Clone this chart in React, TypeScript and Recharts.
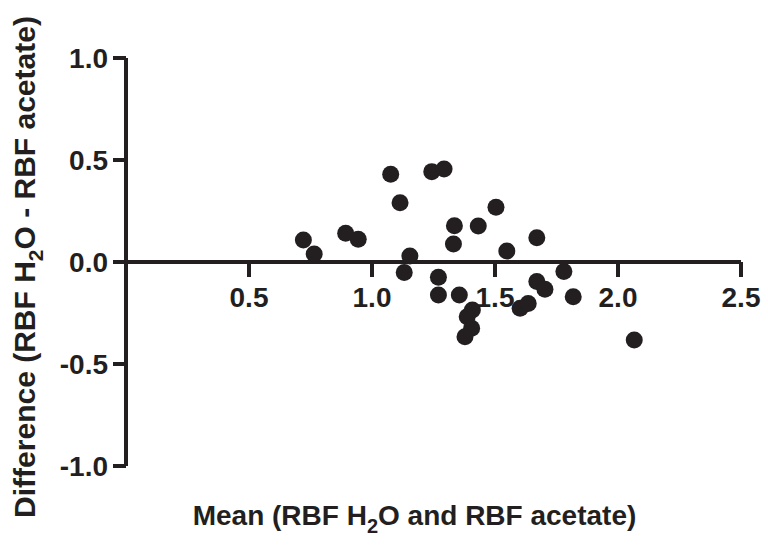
import React from "react";
import { ScatterChart, Scatter, XAxis, YAxis, ReferenceLine } from "recharts";

// Bland-Altman style: mean vs difference of RBF measurements
const MEAN_RBF = [
    0.721, 0.765, 0.893, 0.944, 1.076, 1.114, 1.154, 1.131, 1.243, 1.293,
    1.270, 1.270, 1.335, 1.331, 1.355, 1.408, 1.387, 1.405, 1.378, 1.432,
    1.504, 1.548, 1.602, 1.635, 1.670, 1.670, 1.703, 1.780, 1.818, 2.066,
];
const DIFF_RBF = [
    0.108, 0.039, 0.141, 0.111, 0.430, 0.291, 0.029, -0.051, 0.443, 0.456,
    -0.075, -0.162, 0.178, 0.088, -0.162, -0.235, -0.268, -0.325, -0.366, 0.176,
    0.268, 0.054, -0.227, -0.203, 0.119, -0.096, -0.134, -0.047, -0.170, -0.382,
];
const X_TICKS = [0.5, 1.0, 1.5, 2.0, 2.5];
const Y_TICKS = [-1.0, -0.5, 0.0, 0.5, 1.0];
const X_DOMAIN: [number, number] = [0, 2.5];
const Y_DOMAIN: [number, number] = [-1, 1];

const INK = "#231f20";
const FONT = "'Liberation Sans', Arial, Helvetica, sans-serif";

const W = 768;
const H = 548;
const MARGIN = { top: 58, right: 27, left: 0, bottom: 0 };
const Y_AXIS_W = 126;
const X_AXIS_H = 82;
const PLOT_H = H - MARGIN.top - MARGIN.bottom - X_AXIS_H;
// distance from the bottom of the plot up to y = 0, where the x axis crosses
const ZERO_UP = (PLOT_H * (0 - Y_DOMAIN[0])) / (Y_DOMAIN[1] - Y_DOMAIN[0]);

const data = MEAN_RBF.map((m, i) => ({ x: m, y: DIFF_RBF[i] }));

const XTick = ({ x, y, payload }: any) => {
    const y0 = y - ZERO_UP;
    return (
        <g>
            <line x1={x} x2={x} y1={y0} y2={y0 + 15} stroke={INK} strokeWidth={4} />
            <text x={x} y={y0 + 45} textAnchor="middle" fill={INK} fontFamily={FONT} fontWeight="bold" fontSize={28}>
                {Number(payload.value).toFixed(1)}
            </text>
        </g>
    );
};

const XTitle = ({ viewBox }: any) => {
    const cx = viewBox.x + viewBox.width / 2 - 19;
    const by = viewBox.y + 59;
    return (
        <text x={cx} y={by} textAnchor="middle" fill={INK} fontFamily={FONT} fontWeight="bold" fontSize={28}>
            <tspan>Mean (RBF H</tspan>
            <tspan dy={8} fontSize={20}>2</tspan>
            <tspan dy={-8}>O and RBF acetate)</tspan>
        </text>
    );
};

const YTitle = ({ viewBox }: any) => {
    const bx = 35;
    const cy = viewBox.y + viewBox.height / 2 + 5;
    return (
        <text x={bx} y={cy} transform={`rotate(-90, ${bx}, ${cy})`} textAnchor="middle" fill={INK} fontFamily={FONT} fontWeight="bold" fontSize={30}>
            <tspan>Difference (RBF H</tspan>
            <tspan dy={8} fontSize={21}>2</tspan>
            <tspan dy={-8}>O - RBF acetate)</tspan>
        </text>
    );
};

const Dot = ({ cx, cy }: any) => <circle cx={cx} cy={cy} r={8.5} fill={INK} />;

export default function App() {
    return (
        <div style={{ position: "absolute", left: 0, top: 0, width: W, height: H, background: "#fff" }}>
            <ScatterChart width={W} height={H} margin={MARGIN}>
                <XAxis
                    type="number"
                    dataKey="x"
                    domain={X_DOMAIN}
                    ticks={X_TICKS}
                    height={X_AXIS_H}
                    axisLine={false}
                    tickLine={false}
                    tickSize={0}
                    tickMargin={0}
                    tick={<XTick />}
                    interval={0}
                    label={<XTitle />}
                />
                <YAxis
                    type="number"
                    dataKey="y"
                    domain={Y_DOMAIN}
                    ticks={Y_TICKS}
                    width={Y_AXIS_W}
                    interval={0}
                    axisLine={{ stroke: INK, strokeWidth: 4 }}
                    tickLine={{ stroke: INK, strokeWidth: 4 }}
                    tickSize={13}
                    tickMargin={5}
                    tickFormatter={(v: number) => v.toFixed(1)}
                    tick={{ fill: INK, fontSize: 28, fontWeight: "bold", fontFamily: FONT }}
                    label={<YTitle />}
                />
                <ReferenceLine y={0} stroke={INK} strokeWidth={4} />
                <Scatter data={data} shape={<Dot />} isAnimationActive={false} />
            </ScatterChart>
        </div>
    );
}
